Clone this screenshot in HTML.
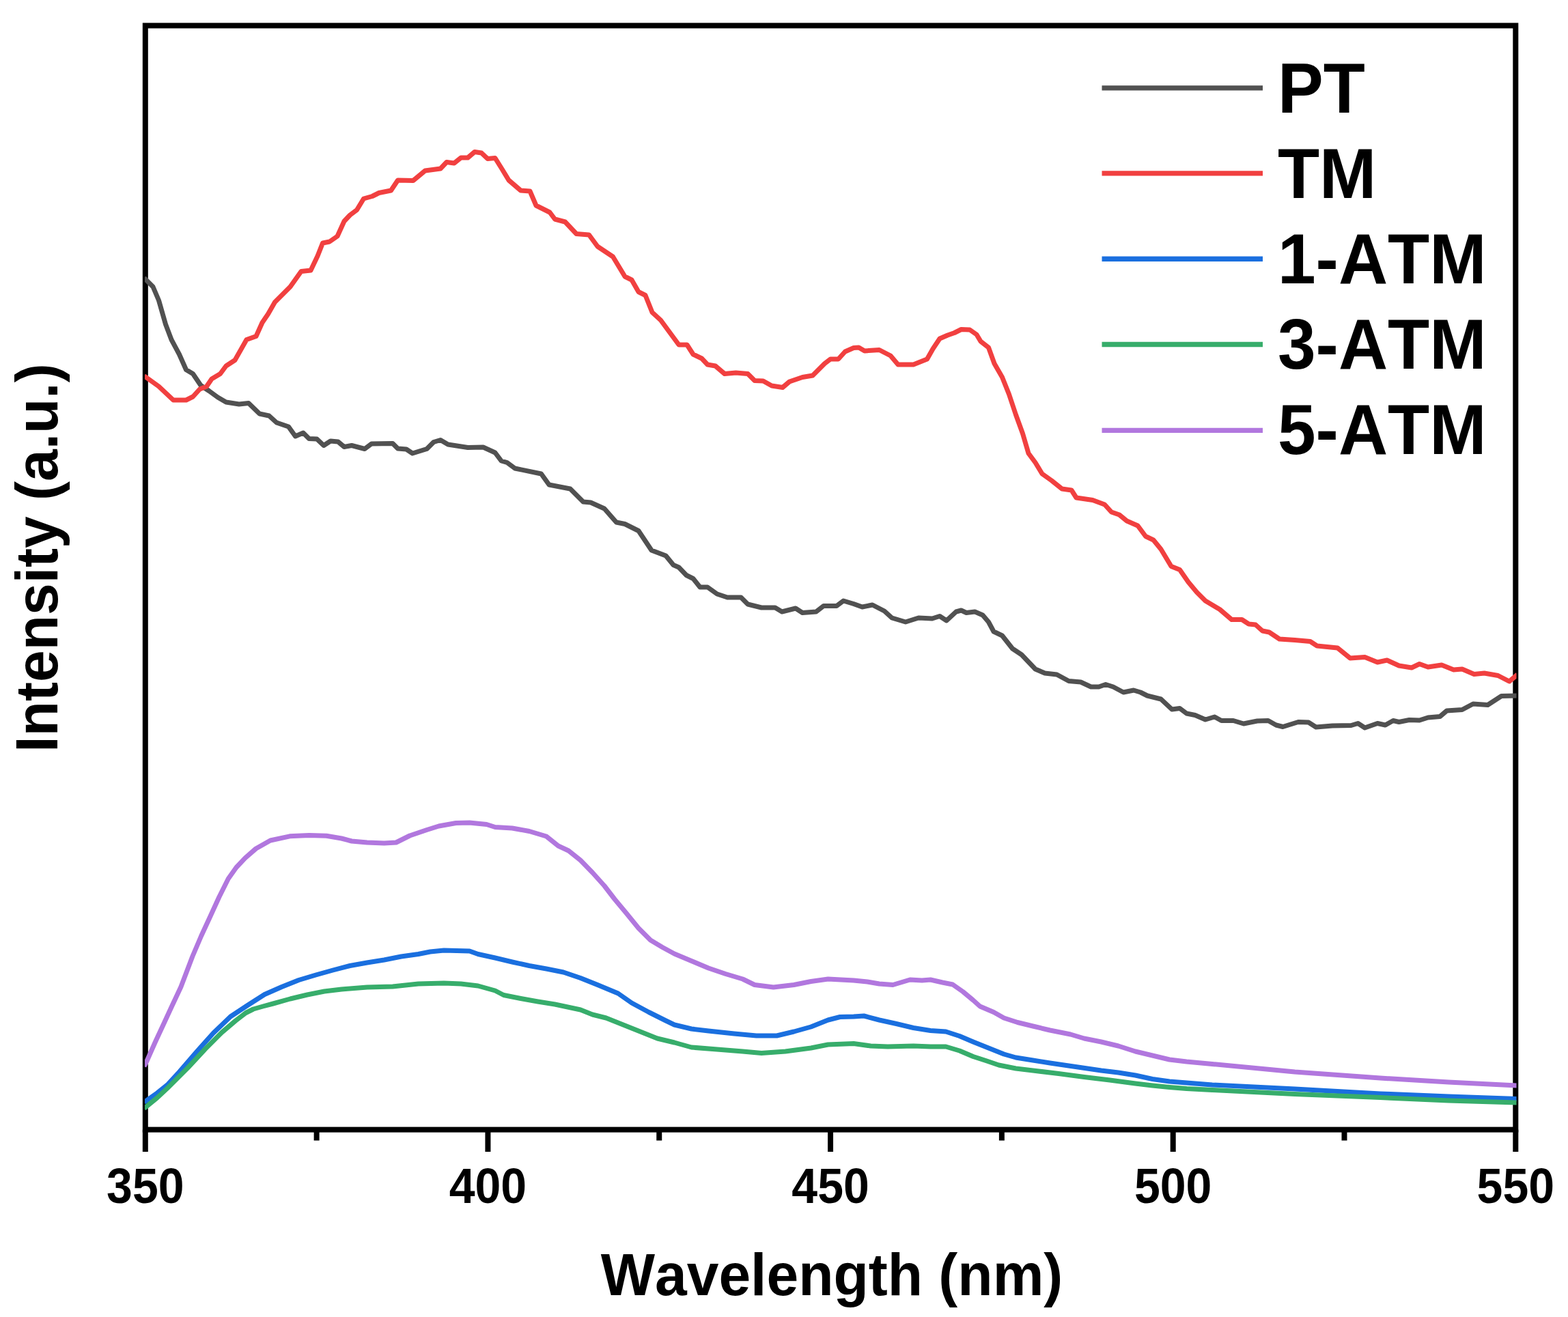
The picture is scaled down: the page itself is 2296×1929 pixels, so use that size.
<!DOCTYPE html>
<html lang="en">
<head>
<meta charset="utf-8">
<title>PL spectra</title>
<style>
html,body{margin:0;padding:0;background:#fff;}
body{width:2296px;height:1929px;}
svg{display:block;filter:blur(0.6px);}
text{font-family:"Liberation Sans", sans-serif;font-weight:bold;fill:#000;font-kerning:none;}
.tick{font-size:68px;text-anchor:middle;}
.title{font-size:84px;text-anchor:middle;}
.leg{font-size:100px;}
</style>
</head>
<body>
<svg width="2296" height="1929" viewBox="0 0 2296 1929">
<rect x="0" y="0" width="2296" height="1929" fill="#ffffff"/>
<defs><clipPath id="plot"><rect x="212" y="37.5" width="2008.5" height="1617.1"/></clipPath></defs>
<rect x="212.8" y="37.5" width="2006.5000000000002" height="1617.1" fill="none" stroke="#000" stroke-width="8"/>
<line x1="212.8" y1="1654.6" x2="212.8" y2="1687" stroke="#000" stroke-width="8"/>
<line x1="463.613" y1="1654.6" x2="463.613" y2="1670.5" stroke="#000" stroke-width="8"/>
<line x1="714.425" y1="1654.6" x2="714.425" y2="1687" stroke="#000" stroke-width="8"/>
<line x1="965.238" y1="1654.6" x2="965.238" y2="1670.5" stroke="#000" stroke-width="8"/>
<line x1="1216.05" y1="1654.6" x2="1216.05" y2="1687" stroke="#000" stroke-width="8"/>
<line x1="1466.86" y1="1654.6" x2="1466.86" y2="1670.5" stroke="#000" stroke-width="8"/>
<line x1="1717.68" y1="1654.6" x2="1717.68" y2="1687" stroke="#000" stroke-width="8"/>
<line x1="1968.49" y1="1654.6" x2="1968.49" y2="1670.5" stroke="#000" stroke-width="8"/>
<line x1="2219.3" y1="1654.6" x2="2219.3" y2="1687" stroke="#000" stroke-width="8"/>
<text class="tick" transform="translate(212.8,1762.4) scale(1,1.06)">350</text>
<text class="tick" transform="translate(714.425,1762.4) scale(1,1.06)">400</text>
<text class="tick" transform="translate(1216.05,1762.4) scale(1,1.06)">450</text>
<text class="tick" transform="translate(1717.68,1762.4) scale(1,1.06)">500</text>
<text class="tick" transform="translate(2219.3,1762.4) scale(1,1.06)">550</text>
<text class="title" transform="translate(1218,1897) scale(1,1.04)">Wavelength (nm)</text>
<text class="title" transform="translate(84,817) rotate(-90) scale(1,1.04)">Intensity (a.u.)</text>
<g clip-path="url(#plot)">
<polyline points="211,407 224,420 232.5,440 242.5,475 251,497.5 262.5,519 272.5,541.5 282.5,547.5 294,564.5 306,572.5 319,582 331,589 350,592 364,590.5 380,606 394,609 405,619 422.5,625 432.5,639 444,634 452.5,642.5 464,643 474,652.5 484,646 495,647 504,654.5 515,652.5 534,657.5 544,650 575,649.5 582.5,657 595,658 604,664 625,657.5 635,647.5 645,644.5 656,651 685,655.5 707.5,655 725,663 734,675 742.5,677.5 754,686 792.5,694 804,710 835,716 854,735 865,736 885,745 902.5,765 915,767.5 935,777.5 954,806 975,814 986,827.5 994,831 1005,842.5 1015,847.5 1025,860 1036,860 1050,870 1065,875 1085,875 1095,885 1115,890 1135,890 1145,896 1165,891 1175,897.5 1195,896 1206,887.5 1225,887.5 1235,880 1250,884.5 1262.5,889 1277.5,886 1295,895 1306,905 1326,911 1345,905 1365,906 1376,902.5 1386,909 1400,896 1407.5,894 1415,897.5 1427.5,896 1439,901 1447.5,911 1455,925 1467.5,931 1482.5,950 1496,959 1516,980 1530,986 1547.5,988 1565,997.5 1582.5,999 1597.5,1006 1609,1006 1619,1002.5 1630,1006 1645,1014 1660,1011 1670,1014 1680,1019 1700,1024 1716,1039 1727.5,1037.5 1737.5,1045 1750,1047.5 1765,1054 1778.5,1050 1788.5,1055.5 1806,1055.5 1821,1060 1841,1056 1857,1055.5 1868.5,1062 1878.5,1064.5 1901,1057.5 1916,1058 1927,1065 1951,1063 1978.5,1062.5 1988.5,1059.5 1998.5,1066 2017,1059.5 2028.5,1062 2040,1055.5 2048.5,1057.5 2063.5,1054.5 2078.5,1055 2091,1051 2108.5,1049.5 2118.5,1041 2141,1039.5 2157,1031 2178.5,1032.5 2198.5,1019.5 2222,1019" fill="none" stroke="#515151" stroke-width="7.0" stroke-linejoin="round" stroke-linecap="butt"/>
<polyline points="211,550.5 232.5,566 253.75,586 272.5,586 282.5,581 292.5,570 302.5,566 310,555 322.5,547.5 331,536 344,527.5 361,497.5 375,492.5 384,472.5 392.5,460 402.5,442.5 412.5,432.5 425,420 441,397.5 455,396 465,375 472.5,356 482.5,354 494,346 504,324 512.5,315 522.5,307.5 532.5,291 545,287.5 555,282.5 572.5,279 582.5,264 605,264.5 622.5,250 645,247 654,237.5 665,239 675,231 685,231 695,222.5 705,224 714,232.5 725,231.5 735,247.5 745,264 762.5,279 776,280 785,301 805,311 812.5,321 827.5,325 844,342.5 862.5,344 875,361 897.5,376 915,405 925,410 935,427.5 945,432.5 955,457.5 967.5,469 994,505 1006,505 1015,519 1027.5,525 1036,534 1047.5,536 1061,547.5 1077.5,546 1095,547.5 1105,557.5 1117.5,558 1130,565 1146,567.5 1156,559 1175,552.5 1190,550 1207.5,532.5 1216,526 1227.5,526 1237.5,515 1250,509.5 1257.5,509 1266,514 1287.5,512.5 1304,521 1315,534 1337.5,534 1357.5,526 1366,511 1376,496 1387.5,491 1397.5,487.5 1407.5,482.5 1420,483 1430,490 1436,500 1447.5,509 1456,532.5 1467.5,552.5 1477.5,577.5 1487.5,607.5 1497.5,635 1506,664 1516,677.5 1526,694 1540,704 1555,716 1569,718 1576,729 1600,732.5 1617.5,739 1627.5,750 1639,754 1650,763 1666,770 1677.5,785.5 1689,791 1700,804.5 1715,829.5 1727.5,834.5 1740,852.5 1752.5,867.5 1765,880 1775,886 1786,892.5 1803.5,907.5 1818.5,907.5 1828.5,914 1838.5,915 1848.5,924 1858.5,926 1873.5,936 1896,937.5 1918.5,939.5 1928.5,946 1958.5,949 1977,964 1998.5,962.5 2017,970 2031,967 2048.5,975 2067,978 2078.5,972.5 2091,977 2111,974 2128.5,981 2141,980 2158.5,987.5 2173.5,986 2193.5,989.5 2210,998 2218.5,991 2222,988" fill="none" stroke="#F14040" stroke-width="7.0" stroke-linejoin="round" stroke-linecap="butt"/>
<polyline points="211,1614.5 230,1601 245,1589 262.5,1570 287.5,1541 312.5,1513 337.5,1489 362.5,1472.5 387.5,1456.5 412.5,1445.5 437.5,1435.5 462.5,1428 487.5,1421 512.5,1414.5 537.5,1410 562.5,1406 587.5,1401 612.5,1397.5 630,1394 650,1392 687.5,1393 700,1397.5 725,1403 750,1409 775,1414.5 800,1419 825,1424 850,1432.5 875,1442.5 905,1455 925,1469 950,1482.5 975,1495 987.5,1501 1012.5,1507 1037.5,1510 1075,1514 1107.5,1517 1137.5,1517 1162.5,1511 1187.5,1504 1212.5,1494 1230,1489.5 1250,1489 1265,1488 1287.5,1494 1312.5,1499.5 1337.5,1505.5 1362.5,1509.5 1385,1511 1405,1517.5 1425,1526 1450,1536 1470,1544 1487.5,1549 1512.5,1553 1537.5,1557 1575,1562.5 1612.5,1568 1637.5,1571 1662.5,1575 1687.5,1580.5 1712.5,1584 1737.5,1586 1775,1589 1896,1595 2021,1602 2121,1606 2222,1609.5" fill="none" stroke="#1A6FDF" stroke-width="7.0" stroke-linejoin="round" stroke-linecap="butt"/>
<polyline points="211,1623.5 230,1608 245,1594 257,1582 275,1564 300,1537 325,1512 345,1495 360,1483.5 371,1478 385,1474 400,1470 425,1463 450,1457 475,1452 500,1449 537.5,1446 575,1445 612.5,1441 650,1440 675,1441 700,1444 725,1451 737.5,1457.5 762.5,1462.5 787.5,1467 812.5,1471 850,1479 867.5,1486 887.5,1491 912.5,1501 937.5,1511 962.5,1521 987.5,1527 1012.5,1534 1050,1537 1087.5,1540 1115,1542.5 1150,1540 1187.5,1535 1212.5,1530 1250,1528.5 1275,1532 1300,1533 1337.5,1532 1362.5,1533 1385,1533 1405,1539 1425,1547.5 1445,1554 1462.5,1560 1487.5,1565 1512.5,1568 1550,1572.5 1587.5,1577.5 1625,1582 1662.5,1587 1687.5,1590 1712.5,1592.5 1737.5,1594.5 1775,1596.5 1896,1602.5 2021,1607.5 2121,1612 2222,1615" fill="none" stroke="#37AD6B" stroke-width="7.0" stroke-linejoin="round" stroke-linecap="butt"/>
<polyline points="211,1562 214.9,1554.3 227,1527 240,1499 252,1473 264.9,1445.5 281.8,1401 294.6,1371 308,1342 320.8,1314 334.3,1287 346,1270.5 359.1,1256.7 374.7,1243 395.9,1231 424.3,1224.8 452.6,1223.6 478,1224.3 500,1228 515,1232 537.5,1234 562.5,1235 580,1234 600,1224 625,1215.5 642.5,1210 667.5,1205.5 687.5,1205 712.5,1207.5 725,1211.5 750,1213 775,1217.5 800,1225 817.5,1239 832.5,1246 850,1260 867.5,1278 885,1297.5 900,1317 917.5,1338 935,1359.5 952.5,1377 970,1387.5 987.5,1397 1012.5,1407.5 1037.5,1418 1062.5,1426.5 1087.5,1434 1105,1442.5 1132.5,1446 1162.5,1442.5 1187.5,1437.5 1212.5,1434 1250,1436 1270,1438 1287.5,1441 1307.5,1442.5 1332.5,1435 1350,1436 1362.5,1435 1380,1439 1395,1442 1410,1452.5 1425,1465 1435,1474 1455,1482.5 1470,1491 1490,1497.5 1512.5,1503 1537.5,1509 1567.5,1515 1587.5,1521 1612.5,1526 1637.5,1532 1662.5,1540 1687.5,1546 1712.5,1552 1737.5,1555 1775,1558.5 1896,1570 2021,1579 2121,1585 2222,1590" fill="none" stroke="#B177DE" stroke-width="7.0" stroke-linejoin="round" stroke-linecap="butt"/>
</g>
<line x1="1613.5" y1="128.9" x2="1849" y2="128.9" stroke="#515151" stroke-width="7.4"/>
<text class="leg" transform="translate(1871,165.2) scale(1,1.04)">PT</text>
<line x1="1613.5" y1="253.9" x2="1849" y2="253.9" stroke="#F14040" stroke-width="7.4"/>
<text class="leg" transform="translate(1871,289.8) scale(1,1.04)">TM</text>
<line x1="1613.5" y1="379.3" x2="1849" y2="379.3" stroke="#1A6FDF" stroke-width="7.4"/>
<text class="leg" transform="translate(1871,414.9) scale(1,1.04)">1-ATM</text>
<line x1="1613.5" y1="504.5" x2="1849" y2="504.5" stroke="#37AD6B" stroke-width="7.4"/>
<text class="leg" transform="translate(1871,540.0) scale(1,1.04)">3-ATM</text>
<line x1="1613.5" y1="630.4" x2="1849" y2="630.4" stroke="#B177DE" stroke-width="7.4"/>
<text class="leg" transform="translate(1871,665.2) scale(1,1.04)">5-ATM</text>
</svg>
</body>
</html>
